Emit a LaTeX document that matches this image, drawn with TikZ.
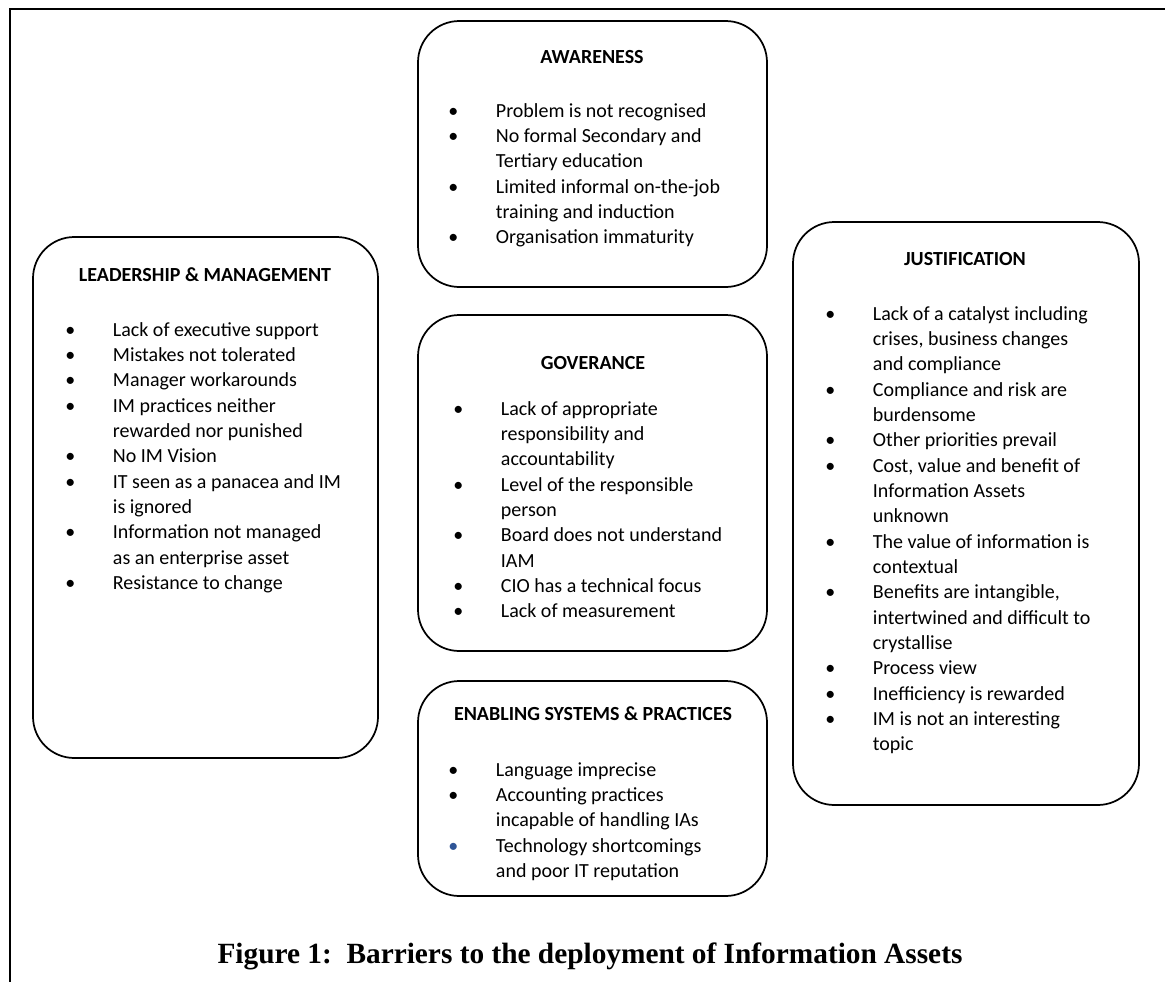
\documentclass[tikz,border=0pt]{standalone}
\usepackage{fontspec}
\setmainfont{Carlito}
\newfontfamily\capfont{Liberation Serif}
\usetikzlibrary{positioning, fit}
\definecolor{bulletblue}{HTML}{2F5597}

\newcommand{\bl}[1][black]{\makebox[0pt][c]{\textcolor{#1}{\textbullet}}\hspace*{32pt}\ignorespaces}
\newcommand{\ct}{\hspace*{32pt}}
\newcommand{\barlist}[1]{\begin{tabular}[t]{@{}l@{}}#1\end{tabular}}

\begin{document}
\begin{tikzpicture}[
    x=0.75pt, y=-0.75pt,
    frame/.style={line width=1.5pt},
    panel/.style={draw, line width=1.3pt, rounded corners=31pt, inner sep=0pt},
    head/.style={font=\fontsize{15}{19}\selectfont\bfseries, inner sep=0pt},
    items/.style={font=\fontsize{15}{19}\selectfont, anchor=base west, inner sep=0pt},
    caption/.style={font=\capfont\bfseries\fontsize{22}{26}\selectfont, anchor=base, inner sep=0pt},
]
    \useasboundingbox (0,0) rectangle (1165,982);
    \draw[frame] (10,982) -- (10,9) -- (1165,9);

    % the five barrier boxes
    \node[panel, fit={(33,237) (378,758)}] (lead) {};
    \node[panel, fit={(418,21) (767,287)}] (aware) {};
    \node[panel, fit={(418,315) (767,651)}] (gov) {};
    \node[panel, fit={(418,681) (767,896)}] (enab) {};
    \node[panel, fit={(793,222) (1139,805)}] (just) {};

    % headings
    \node[head] (leadhead) at (205,275) {LEADERSHIP \& MANAGEMENT};
    \node[head] (awarehead) at (592,57) {AWARENESS};
    \node[head] (govhead) at (593,363) {GOVERANCE};
    \node[head] (enabhead) at (593,714) {ENABLING SYSTEMS \& PRACTICES};
    \node[head] (justhead) at (965,259) {JUSTIFICATION};

    % bullet lists
    \node[items] (leadlist) at (70,336) {\barlist{
        \bl Lack of executive support\\
        \bl Mistakes not tolerated\\
        \bl Manager workarounds\\
        \bl IM practices neither\\
        \ct rewarded nor punished\\
        \bl No IM Vision\\
        \bl IT seen as a panacea and IM\\
        \ct is ignored\\
        \bl Information not managed\\
        \ct as an enterprise asset\\
        \bl Resistance to change}};
    \node[items] (awarelist) at (453,117) {\barlist{
        \bl Problem is not recognised\\
        \bl No formal Secondary and\\
        \ct Tertiary education\\
        \bl Limited informal on-the-job\\
        \ct training and induction\\
        \bl Organisation immaturity}};
    \node[items] (govlist) at (458,415) {\barlist{
        \bl Lack of appropriate\\
        \ct responsibility and\\
        \ct accountability\\
        \bl Level of the responsible\\
        \ct person\\
        \bl Board does not understand\\
        \ct IAM\\
        \bl CIO has a technical focus\\
        \bl Lack of measurement}};
    \node[items] (enablist) at (453,776) {\barlist{
        \bl Language imprecise\\
        \bl Accounting practices\\
        \ct incapable of handling IAs\\
        \bl[bulletblue] Technology shortcomings\\
        \ct and poor IT reputation}};
    \node[items] (justlist) at (830,320) {\barlist{
        \bl Lack of a catalyst including\\
        \ct crises, business changes\\
        \ct and compliance\\
        \bl Compliance and risk are\\
        \ct burdensome\\
        \bl Other priorities prevail\\
        \bl Cost, value and benefit of\\
        \ct Information Assets\\
        \ct unknown\\
        \bl The value of information is\\
        \ct contextual\\
        \bl Benefits are intangible,\\
        \ct intertwined and difficult to\\
        \ct crystallise\\
        \bl Process view\\
        \bl Inefficiency is rewarded\\
        \bl IM is not an interesting\\
        \ct topic}};

    \node[caption] (cap) at (590,963) {Figure 1:\ \ Barriers to the deployment of Information Assets};
\end{tikzpicture}
\end{document}
